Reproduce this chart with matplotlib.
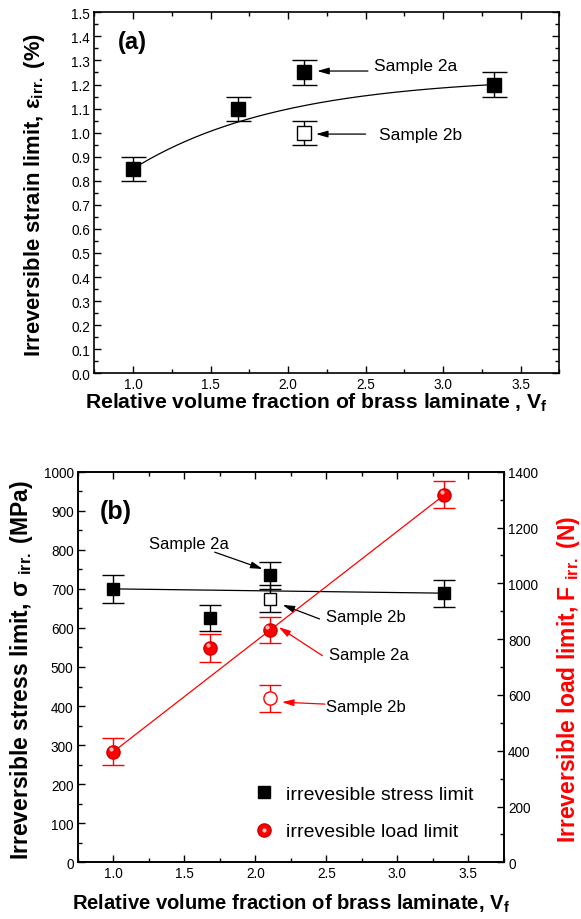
import numpy as np
import matplotlib
matplotlib.use("Agg")
import matplotlib.pyplot as plt
from matplotlib.lines import Line2D
from matplotlib import transforms

plt.rcParams['font.family'] = ['Liberation Sans', 'DejaVu Sans']
plt.rcParams['mathtext.fontset'] = 'custom'
plt.rcParams['mathtext.rm'] = 'Liberation Sans'
plt.rcParams['mathtext.it'] = 'Liberation Sans:italic'
plt.rcParams['mathtext.bf'] = 'Liberation Sans:bold'

# ---------------- data ----------------
# panel (a)
strain_x = [1.0, 1.68, 2.10, 3.33]
strain_y = [0.85, 1.10, 1.25, 1.20]
strain_err = [0.05, 0.05, 0.05, 0.05]
strain_2b_x = [2.10]
strain_2b_y = [1.00]
strain_2b_err = [0.05]
# exponential saturation fit y = A - B*exp(-k*(x-1))
fit_A, fit_B, fit_k = 1.234, 0.384, 1.04
fit_range = [1.0, 3.33]

# panel (b)
stress_x = [1.0, 1.68, 2.10, 3.33]
stress_y = [700, 625, 735, 689]
stress_err = [35, 33, 35, 35]
stress_2b_x = [2.10]
stress_2b_y = [675]
stress_2b_err = [35]
stress_fit_x = [1.0, 3.33]
stress_fit_y = [700, 689]

load_x = [1.0, 1.68, 2.10, 3.33]
load_y = [396, 768, 833, 1317]
load_err = [48, 49, 48, 48]
load_2b_x = [2.10]
load_2b_y = [588]
load_2b_err = [48]
load_fit_x = [1.0, 3.33]
load_fit_y = [396, 1317]

RED = '#ff0000'

fig = plt.figure(figsize=(5.81, 9.20), dpi=100)
W, H = 581.0, 920.0

def style_axis(ax):
    for s in ax.spines.values():
        s.set_linewidth(1.2)
    ax.tick_params(which='both', direction='in', top=True, width=1.0, labelsize=9.8, pad=3)
    ax.tick_params(which='major', length=5)
    ax.tick_params(which='minor', length=3)

# ---------------- panel (a) ----------------
axa = fig.add_axes([94.3 / W, 1 - 374.3 / H, 465 / W, 361 / H])
style_axis(axa)
axa.tick_params(which='both', right=True)
axa.set_xlim(0.75, 3.75)
axa.set_ylim(0.0, 1.5)
axa.set_xticks(np.arange(1.0, 3.51, 0.5))
axa.set_xticks(np.arange(0.75, 3.76, 0.25), minor=True)
axa.set_yticks(np.arange(0.0, 1.51, 0.1))
axa.set_yticks(np.arange(0.0, 1.51, 0.05), minor=True)
axa.set_xticklabels([f"{v:.1f}" for v in np.arange(1.0, 3.51, 0.5)])
axa.set_yticklabels([f"{v:.1f}" for v in np.arange(0.0, 1.51, 0.1)])

xf = np.linspace(fit_range[0], fit_range[1], 200)
axa.plot(xf, fit_A - fit_B * np.exp(-fit_k * (xf - 1.0)), color='k', lw=0.9, zorder=2)
axa.errorbar(strain_x, strain_y, yerr=strain_err, fmt='s', color='k', ms=9.5,
             capsize=9, elinewidth=1.0, capthick=1.0, zorder=3)
axa.errorbar(strain_2b_x, strain_2b_y, yerr=strain_2b_err, fmt='s', color='k',
             mfc='white', mec='k', ms=9.5, capsize=9, elinewidth=1.0, capthick=1.0, zorder=3)

axa.text(0.902, 1.377, "(a)", fontsize=17, fontweight='bold', va='center', ha='left')
arrow_k = dict(arrowstyle='-|>,head_length=0.7,head_width=0.2', lw=0.9, color='k',
               shrinkA=0, shrinkB=0)
axa.annotate('', xy=(2.188, 1.256), xytext=(2.515, 1.256), arrowprops=arrow_k)
axa.text(2.554, 1.277, "Sample 2a", fontsize=12.5, va='center', ha='left')
axa.annotate('', xy=(2.18, 0.994), xytext=(2.50, 0.994), arrowprops=arrow_k)
axa.text(2.586, 0.994, "Sample 2b", fontsize=12.5, va='center', ha='left')

fig.text(85 / W, 1 - 409 / H, r"Relative volume fraction of brass laminate , V$_{\mathbf{f}}$",
         fontsize=15.2, fontweight='bold', ha='left', va='baseline')
fig.text(35 / W, 1 - 195 / H, r"Irreversible strain limit, ε$_{\mathbf{irr.}}$ (%)",
         fontsize=15.8, fontweight='bold', rotation=90, ha='center', va='center')

# ---------------- panel (b) ----------------
axb = fig.add_axes([77.7 / W, 1 - 863.3 / H, 426.3 / W, 390.6 / H])
style_axis(axb)
axb.set_xlim(0.75, 3.75)
axb.set_ylim(0, 1000)
axb.set_xticks(np.arange(1.0, 3.51, 0.5))
axb.set_xticks(np.arange(0.75, 3.76, 0.25), minor=True)
axb.set_yticks(np.arange(0, 1001, 100))
axb.set_yticks(np.arange(0, 1001, 50), minor=True)
axb.set_xticklabels([f"{v:.1f}" for v in np.arange(1.0, 3.51, 0.5)])

axr = axb.twinx()
axr.set_ylim(0, 1400)
axr.set_yticks(np.arange(0, 1401, 200))
axr.set_yticks(np.arange(0, 1401, 100), minor=True)
axr.tick_params(which='both', direction='in', width=1.0, labelsize=9.8, pad=3)
axr.tick_params(which='major', length=5)
axr.tick_params(which='minor', length=3)
for s in axr.spines.values():
    s.set_linewidth(1.2)

axb.plot(stress_fit_x, stress_fit_y, color='k', lw=0.9, zorder=2)
axb.errorbar(stress_x, stress_y, yerr=stress_err, fmt='s', color='k', ms=8.5,
             capsize=8, elinewidth=1.0, capthick=1.0, zorder=3)
axb.errorbar(stress_2b_x, stress_2b_y, yerr=stress_2b_err, fmt='s', color='k',
             mfc='white', mec='k', ms=8.5, capsize=8, elinewidth=1.0, capthick=1.0, zorder=3)

axr.plot(load_fit_x, load_fit_y, color=RED, lw=0.9, zorder=2)
axr.errorbar(load_x, load_y, yerr=load_err, fmt='o', color=RED, ms=9.5, mec='#d00000',
             capsize=8, elinewidth=1.0, capthick=1.0, zorder=3)
hl = transforms.offset_copy(axr.transData, fig=fig, x=-1.5, y=2.0, units='points')
axr.plot(load_x, load_y, 'o', color='#ffc8c8', ms=3.0, mec='none', alpha=0.9,
         transform=hl, zorder=4)
axr.errorbar(load_2b_x, load_2b_y, yerr=load_2b_err, fmt='o', color=RED, mfc='white',
             mec=RED, ms=9.5, capsize=8, elinewidth=1.0, capthick=1.0, zorder=3)

axb.text(0.907, 900, "(b)", fontsize=18, fontweight='bold', va='center', ha='left')
axb.annotate('', xy=(2.051, 751), xytext=(1.714, 794), arrowprops=arrow_k)
axb.text(1.251, 817, "Sample 2a", fontsize=12, va='center', ha='left')
axb.annotate('', xy=(2.192, 659), xytext=(2.452, 623), arrowprops=arrow_k)
axb.text(2.500, 630, "Sample 2b", fontsize=12, va='center', ha='left')
arrow_r = dict(arrowstyle='-|>,head_length=0.7,head_width=0.2', lw=0.9, color=RED,
               shrinkA=0, shrinkB=0)
axb.annotate('', xy=(2.165, 602), xytext=(2.472, 529), arrowprops=arrow_r)
axb.text(2.521, 531, "Sample 2a", fontsize=12, va='center', ha='left')
axb.annotate('', xy=(2.187, 410), xytext=(2.49, 405), arrowprops=arrow_r)
axb.text(2.500, 400, "Sample 2b", fontsize=12, va='center', ha='left')

h1 = Line2D([], [], marker='s', color='k', ls='none', ms=8.5)
h2a = Line2D([], [], marker='o', color=RED, mec='#d00000', ls='none', ms=9.5)
h2b = Line2D([], [], marker='o', color='#ffc8c8', mec='none', ls='none', ms=3.0)
leg = axb.legend([h1, (h2a, h2b)], ["irrevesible stress limit", "irrevesible load limit"],
                 loc='center left', bbox_to_anchor=(245 / W, 1 - 814 / H),
                 bbox_transform=fig.transFigure, frameon=False, fontsize=14,
                 handlelength=1.0, handletextpad=0.6, labelspacing=1.0, borderpad=0)

fig.text(72 / W, 1 - 910 / H, r"Relative volume fraction of brass laminate, V$_{\mathbf{f}}$",
         fontsize=14.6, fontweight='bold', ha='left', va='baseline')
fig.text(22 / W, 1 - 670 / H, r"Irreversible stress limit, σ $_{\mathbf{irr.}}$ (MPa)",
         fontsize=16.5, fontweight='bold', rotation=90, ha='center', va='center')
fig.text(568 / W, 1 - 679 / H, r"Irreversible load limit, F $_{\mathbf{irr.}}$ (N)",
         fontsize=16.5, fontweight='bold', rotation=90, ha='center', va='center', color=RED)

fig.savefig("out.png", dpi=100)
